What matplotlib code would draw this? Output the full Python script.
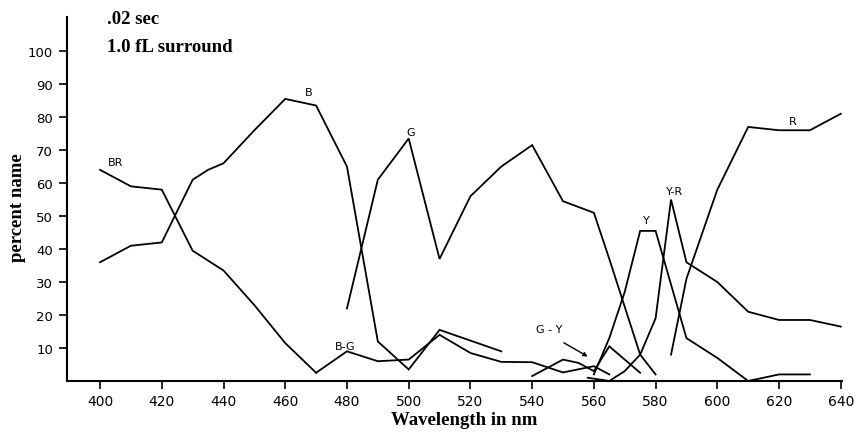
import matplotlib
matplotlib.use("Agg")
import matplotlib.pyplot as plt

# percent of trials each colour name was used, by wavelength (nm)
br_wl = [400, 410, 420, 430, 440, 450, 460, 470]
br_pct = [64, 59, 58, 39.5, 33.5, 23, 11.5, 2.5]

b_wl = [400, 410, 420, 430, 435, 440, 450, 460, 470, 480, 490, 500, 510, 530]
b_pct = [36, 41, 42, 61, 64, 66, 76, 85.5, 83.5, 65, 12, 3.5, 15.5, 9]

bg_wl = [470, 480, 490, 500, 510, 520, 530, 540, 550, 560, 565]
bg_pct = [2.5, 9, 6, 6.5, 14, 8.5, 5.8, 5.7, 2.6, 4.5, 2]

g_wl = [480, 490, 500, 510, 520, 530, 540, 550, 560, 565, 575, 580]
g_pct = [22, 61, 73.5, 37, 56, 65, 71.5, 54.5, 51, 37, 8, 2]

gy_wl = [540, 550, 555, 560, 565, 575]
gy_pct = [1.5, 6.5, 5.5, 3, 10.5, 2.5]

y_wl = [560, 565, 570, 575, 580, 590, 600, 610, 620, 630]
y_pct = [2, 13, 27, 45.5, 45.5, 13, 7, 0, 2, 2]

yr_wl = [558, 565, 570, 575, 580, 585, 590, 600, 610, 620, 630, 640]
yr_pct = [1, 0, 3, 8, 19, 55, 36, 30, 21, 18.5, 18.5, 16.5]

r_wl = [585, 590, 600, 610, 620, 630, 640]
r_pct = [8, 31, 58, 77, 76, 76, 81]

curves = [
    (br_wl, br_pct), (b_wl, b_pct), (bg_wl, bg_pct), (g_wl, g_pct),
    (gy_wl, gy_pct), (y_wl, y_pct), (yr_wl, yr_pct), (r_wl, r_pct),
]

# curve names and where they sit (wavelength, percent)
names = ["BR", "B", "B-G", "G", "G - Y", "Y", "Y-R", "R"]
name_pos = [(405, 66.5), (467.5, 87.5), (479.5, 10.6), (500.5, 75.5),
            (545.5, 15.8), (577, 48.8), (586, 57.6), (624.5, 78.8)]

xticks = list(range(400, 641, 20))
yticks = list(range(10, 101, 10))

fig = plt.figure(figsize=(8.55, 4.39), dpi=100)
ax = fig.add_axes([0.0784, 0.1298, 0.9064, 0.829])

for wl, pct in curves:
    ax.plot(wl, pct, color="black", lw=1.3, solid_joinstyle="miter")

for name, (x, y) in zip(names, name_pos):
    ax.text(x, y, name, ha="center", va="center", fontsize=8,
            family="DejaVu Sans", color="black")

# arrow from the G-Y label to its curve
ax.annotate("", xy=(558.8, 7.0), xytext=(549.5, 12.0),
            arrowprops=dict(arrowstyle="-|>", color="black", lw=1.0,
                            mutation_scale=6))

ax.set_xlim(389.3, 640.4)
ax.set_ylim(0, 110.3)
ax.set_xticks(xticks)
ax.set_yticks(yticks)
ax.tick_params(axis="x", direction="out", length=6, width=1.2, pad=3,
               labelsize=10)
ax.tick_params(axis="y", direction="out", length=6, width=1.2, pad=4,
               labelsize=9.5)
for lab in ax.get_xticklabels() + ax.get_yticklabels():
    lab.set_family("DejaVu Sans")

ax.spines["top"].set_visible(False)
ax.spines["right"].set_visible(False)
ax.spines["left"].set_linewidth(1.5)
ax.spines["bottom"].set_linewidth(1.5)

serif = "Liberation Serif"
fig.text(18 / 855, 1 - 208 / 439, "percent name", ha="center", va="center",
         rotation=90, family=serif, weight="bold", fontsize=13.5)
fig.text(464 / 855, 1 - 421 / 439, "Wavelength in nm", ha="center",
         va="center", family=serif, weight="bold", fontsize=13.5)
fig.text(107 / 855, 1 - 20 / 439, ".02 sec", ha="left", va="center",
         family=serif, weight="bold", fontsize=13.5)
fig.text(107 / 855, 1 - 47 / 439, "1.0 fL surround", ha="left", va="center",
         family=serif, weight="bold", fontsize=13.5)

fig.savefig("out.png", dpi=100, facecolor="white")
